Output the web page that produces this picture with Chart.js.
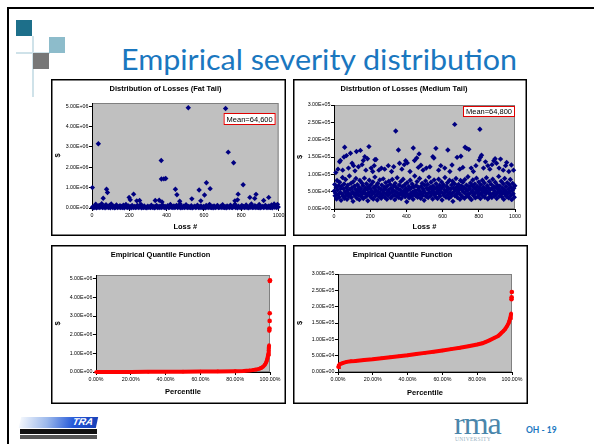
<!DOCTYPE html>
<html lang="en">
<head>
<meta charset="UTF-8" />
<title>Empirical severity distribution</title>
<script src="https://cdn.jsdelivr.net/npm/chart.js@4.4.0/dist/chart.umd.min.js"></script>
<style>
  body { margin: 0; width: 594px; height: 444px; position: relative; overflow: hidden; background: #fff; font-family: Lato, sans-serif; }
  .frame { position: absolute; left: 7px; top: 7px; width: 600px; height: 450px; border-left: 2px solid #000; border-top: 2px solid #000; }
  .deco { position: absolute; }
  #title { position: absolute; left: 121px; top: 44px; font-size: 29px; line-height: 1; color: #1a77bf; white-space: nowrap; transform-origin: 0 0; }
  canvas { position: absolute; }
  .logo-bar { position: absolute; left: 20px; top: 417px; width: 77px; height: 11px; background: linear-gradient(to right, #f2f6fc 0%, #9bb8ec 35%, #2458d8 70%, #1840b8 100%); transform: skewX(-12deg); }
  .logo-bar span { position: absolute; right: 4px; top: -1px; color: #fff; font: italic bold 10px "Liberation Sans", sans-serif; }
  .logo-strip { position: absolute; left: 20px; top: 429px; width: 77px; height: 5px; background: #111; }
  .logo-strip2 { position: absolute; left: 20px; top: 435px; width: 77px; height: 4px; background: #555; }
  #rma { position: absolute; left: 454px; top: 407px; font: 32px "Liberation Serif", serif; color: #4a86ab; line-height: 1; letter-spacing: -1px; }
  #univ { position: absolute; left: 455px; top: 436px; font: 5.5px "Liberation Serif", serif; color: #9ab3c4; letter-spacing: 0.3px; }
  #page { position: absolute; left: 526px; top: 425px; font: bold 8.5px Lato, sans-serif; color: #1a77bf; }
</style>
</head>
<body>
  <div class="frame"></div>
  <!-- corner squares -->
  <div class="deco" style="left:32px; top:36px; width:1.5px; height:61px; background:#cfe2e9"></div>
  <div class="deco" style="left:16px; top:52px; width:34px; height:1.5px; background:#cfe2e9"></div>
  <div class="deco" style="left:16px; top:20px; width:16px; height:16px; background:#1d6f8a"></div>
  <div class="deco" style="left:49px; top:37px; width:16px; height:16px; background:#8dbccb"></div>
  <div class="deco" style="left:33px; top:53px; width:16px; height:16px; background:#777"></div>

  <div id="title">Empirical severity distribution</div>

  <canvas id="c1" width="235" height="157" style="left:51px; top:79px"></canvas>
  <canvas id="c2" width="234" height="157" style="left:293px; top:79px"></canvas>
  <canvas id="c3" width="235" height="159" style="left:51px; top:245px"></canvas>
  <canvas id="c4" width="235" height="159" style="left:293px; top:245px"></canvas>

  <!-- footer -->
  <div class="logo-bar"><span>TRA</span></div>
  <div class="logo-strip"></div>
  <div class="logo-strip2"></div>
  <div id="rma">rma</div>
  <div id="univ">UNIVERSITY</div>
  <div id="page">OH - 19</div>

<script>
  // ---- data (values in thousands of $) ----
  // fat tail: [loss #, loss]
  const fatSmall = [
    [2,40],[6,15],[11,80],[15,25],[20,190],[24,10],[29,60],[33,30],[38,120],[42,20],[47,55],[52,210],[56,18],[61,45],[66,90],[70,12],[75,160],[80,35],[84,70],[89,22],
    [94,130],[98,15],[103,200],[108,50],[112,28],[117,85],[122,14],[126,40],[131,150],[136,22],[140,65],[145,30],[150,110],[154,18],[159,75],[164,25],[168,140],[173,12],[178,55],[182,170],
    [187,35],[192,20],[196,95],[201,30],[206,60],[210,15],[215,120],[220,40],[224,25],[229,80],[234,18],[238,50],[243,130],[248,22],[252,70],[257,35],[262,180],[266,15],[271,60],[276,28],
    [280,100],[285,20],[290,45],[294,12],[299,85],[304,30],[308,55],[313,18],[318,140],[322,40],[327,22],[332,75],[336,15],[341,50],[346,120],[350,25],[355,65],[360,18],[364,90],[369,35],
    [374,20],[378,150],[383,45],[388,28],[392,80],[397,15],[402,55],[406,110],[411,22],[416,40],[420,170],[425,30],[430,60],[434,18],[439,95],[444,25],[448,50],[453,130],[458,20],[462,75],
    [467,35],[472,200],[476,15],[481,60],[486,28],[490,90],[495,22],[500,45],[504,160],[509,30],[514,18],[518,70],[523,40],[528,25],[532,110],[537,15],[542,55],[546,35],[551,85],[556,20],
    [560,45],[565,140],[570,28],[574,65],[579,18],[584,100],[588,35],[593,22],[598,75],[602,40],[607,15],[612,120],[616,30],[621,55],[626,20],[630,180],[635,40],[640,25],[644,70],[649,15],
    [654,95],[658,35],[663,22],[668,60],[672,130],[677,18],[682,45],[686,30],[691,85],[696,20],[700,160],[705,40],[710,25],[714,65],[719,15],[724,100],[728,35],[733,55],[738,22],[742,140],
    [747,30],[752,18],[756,75],[761,45],[766,190],[770,25],[775,60],[780,15],[784,90],[789,35],[794,50],[798,20],[803,120],[808,30],[812,70],[817,18],[822,45],[826,150],[831,25],[836,60],
    [840,15],[845,85],[850,35],[854,200],[859,22],[864,50],[868,30],[873,110],[878,18],[882,65],[887,40],[892,25],[896,170],[901,15],[906,55],[910,35],[915,80],[920,20],[924,45],[929,130],
    [934,28],[938,65],[943,18],[948,95],[952,40],[957,25],[962,150],[966,15],[971,60],[976,200],[980,30],[985,85],[990,20],[994,180],[998,45]
  ];
  const fatLarge = [
    [2,1000],[34,3150],[60,480],[78,920],[83,760],[199,520],[205,400],[223,680],[240,350],[255,370],[339,370],[360,380],[375,300],
    [371,2330],[372,1420],[385,1430],[395,1450],[447,920],[455,650],[470,330],[516,4920],[535,450],[574,880],[583,350],[603,640],
    [613,1240],[633,950],[716,4880],[730,2740],[759,2220],[766,350],[780,400],[783,680],[810,1140],[846,520],[872,470],[879,670],
    [920,370],[947,520]
  ];
  // medium tail: [loss #, loss]
  const mediumHigh = [
    [10,105],[22,115],[31,136],[35,140],[48,112],[55,150],[59,178],[69,154],[80,118],[91,161],[100,132],[108,125],[116,110],[124,166],[135,122],
    [146,169],[155,128],[162,140],[170,151],[176,112],[185,145],[193,180],[205,118],[214,108],[222,125],[226,142],[232,143],[248,112],[262,118],
    [280,115],[300,125],[318,108],[330,122],[341,225],[356,170],[362,132],[375,115],[388,128],[396,139],[405,133],[420,108],[438,176],[445,140],
    [457,147],[466,120],[470,159],[480,126],[492,112],[510,118],[530,122],[546,151],[552,147],[563,175],[578,112],[590,125],[612,118],[629,170],
    [640,108],[652,127],[667,244],[680,149],[695,115],[701,152],[712,120],[724,178],[733,175],[745,172],[758,118],[770,108],[784,125],[802,141],
    [806,230],[809,149],[815,155],[826,118],[837,136],[850,125],[861,115],[873,128],[883,139],[890,145],[898,132],[912,118],[920,144],[935,112],
    [948,125],[954,134],[966,108],[980,127],[992,112]
  ];
  const mediumBand = [
    [1,52],[4,71],[6,38],[9,45],[12,63],[14,29],[17,82],[19,55],[23,41],[26,68],[28,34],[31,77],[34,48],[37,59],[39,25],[42,66],[45,43],[47,91],[50,37],[53,58],
    [56,72],[58,31],[61,49],[64,85],[66,40],[69,62],[72,28],[74,53],[77,69],[80,45],[83,36],[85,95],[88,57],[91,42],[94,74],[96,33],[99,61],[102,50],[105,22],[107,79],
    [110,44],[113,66],[116,38],[118,57],[121,88],[124,47],[127,31],[129,70],[132,54],[135,41],[138,63],[140,27],[143,82],[146,49],[149,58],[151,36],[154,75],[157,43],[160,67],[162,30],
    [165,52],[168,89],[171,46],[173,60],[176,35],[179,73],[182,40],[184,56],[187,24],[190,64],[193,47],[195,83],[198,38],[201,58],[204,70],[206,33],[209,51],[212,44],[215,78],[217,29],
    [220,62],[223,48],[226,92],[228,37],[231,55],[234,68],[237,42],[239,26],[242,74],[245,50],[248,61],[250,35],[253,84],[256,45],[259,57],[261,31],[264,69],[267,40],[270,53],[272,87],
    [275,47],[278,63],[281,34],[283,58],[286,76],[289,43],[292,28],[294,66],[297,51],[300,39],[303,80],[305,56],[308,45],[311,71],[314,32],[316,60],[319,48],[322,85],[325,38],[327,54],
    [330,67],[333,41],[336,27],[338,74],[341,50],[344,62],[347,36],[349,90],[352,46],[355,58],[358,33],[360,69],[363,42],[366,55],[369,79],[371,30],[374,48],[377,64],[380,39],[382,86],
    [385,52],[388,44],[391,70],[393,35],[396,59],[399,47],[402,21],[404,76],[407,54],[410,40],[413,65],[415,32],[418,57],[421,83],[424,45],[426,61],[429,37],[432,72],[435,49],[437,28],
    [440,63],[443,43],[446,95],[448,53],[451,38],[454,68],[457,46],[459,79],[462,34],[465,56],[468,62],[470,41],[473,88],[476,50],[479,31],[481,65],[484,44],[487,74],[490,39],[492,58],
    [495,52],[498,25],[501,69],[503,47],[506,81],[509,36],[512,60],[514,43],[517,71],[520,33],[523,55],[525,92],[528,48],[531,63],[534,38],[536,77],[539,45],[542,57],[545,29],[547,66],
    [550,50],[553,84],[556,41],[558,59],[561,35],[564,73],[567,47],[569,62],[572,30],[575,54],[578,86],[580,43],[583,68],[586,37],[589,58],[591,49],[594,78],[597,26],[600,63],[602,45],
    [605,70],[608,39],[611,55],[613,91],[616,48],[619,34],[622,65],[624,52],[627,76],[630,41],[633,60],[635,31],[638,83],[641,47],[644,57],[646,36],[649,69],[652,44],[655,80],[657,22],
    [660,61],[663,50],[666,73],[668,38],[671,56],[674,88],[677,43],[679,64],[682,33],[685,52],[688,71],[690,46],[693,59],[696,28],[699,82],[701,40],[704,66],[707,55],[710,35],[712,77],
    [715,49],[718,62],[721,31],[723,85],[726,45],[729,57],[732,69],[734,37],[737,53],[740,93],[743,42],[745,64],[748,33],[751,58],[754,75],[756,47],[759,27],[762,68],[765,51],[767,84],
    [770,39],[773,61],[776,44],[778,72],[781,32],[784,56],[787,89],[789,48],[792,65],[795,36],[798,53],[800,78],[803,42],[806,60],[809,30],[811,70],[814,46],[817,55],[820,83],[822,38],
    [825,63],[828,50],[831,75],[833,34],[836,58],[839,44],[842,90],[844,52],[847,67],[850,29],[853,61],[855,47],[858,79],[861,36],[864,56],[866,43],[869,71],[872,33],[875,59],[877,86],
    [880,45],[883,64],[886,38],[888,52],[891,77],[894,41],[897,62],[899,30],[902,69],[905,48],[908,57],[910,94],[913,37],[916,66],[919,51],[921,43],[924,80],[927,35],[930,60],[932,47],
    [935,73],[938,28],[941,55],[943,88],[946,42],[949,65],[952,50],[954,36],[957,76],[960,45],[963,58],[965,32],[968,70],[971,49],[974,85],[976,39],[979,62],[982,27],[985,54],[987,74],
    [990,44],[993,60],[996,34],[999,67]
  ];
  // empirical quantile functions: percentile (%) and loss
  const fatPct      = [0, 10, 20, 30, 40, 50, 60, 70, 80, 85, 88, 90, 92, 94, 95, 96, 97, 97.5, 98, 98.5, 99, 99.2, 99.4, 99.5];
  const fatQuant    = [0, 2, 5, 9, 13, 18, 25, 33, 45, 60, 80, 100, 130, 180, 220, 280, 380, 460, 560, 720, 950, 1150, 1300, 1450];
  const fatTopPct   = [99.6, 99.7, 99.8, 99.85, 99.9, 100];
  const fatTopQuant = [2220, 2330, 2740, 3150, 4880, 4920];
  const medPct      = [0, 0.5, 1, 2, 3, 5, 7.5, 10, 15, 20, 25, 30, 35, 40, 45, 50, 55, 60, 65, 70, 75, 80, 83, 85, 87, 90, 92, 93, 94, 95, 96, 97, 98, 98.5, 99, 99.3, 99.5];
  const medQuant    = [15, 20, 24, 26, 28, 31, 33, 34, 37, 39, 42, 45, 48, 51, 55, 58.5, 62, 66, 70, 74, 79, 84, 88, 92.5, 97, 105, 110, 115, 120, 125, 131, 139, 149, 156, 166, 173, 180];
  const medTopPct   = [99.7, 99.8, 99.9];
  const medTopQuant = [223, 229, 245];

  // tick values
  const lossTicks = [0, 200, 400, 600, 800, 1000];
  const pctTicks = [0, 20, 40, 60, 80, 100];
  const fatTicks = [0, 1e6, 2e6, 3e6, 4e6, 5e6];
  const medTicks = [0, 5e4, 1e5, 1.5e5, 2e5, 2.5e5, 3e5];

  // ---- helpers ----
  const FAMILY = '"Liberation Sans", Arial, sans-serif';
  const tickFont = { family: FAMILY, size: 5.3 };
  const boldFont = { family: FAMILY, size: 7.5, weight: 'bold' };

  const sci = v => {
    if (v === 0) return '0.00E+00';
    const e = Math.floor(Math.log10(v) + 1e-9);
    return (v / Math.pow(10, e)).toFixed(2) + 'E+' + String(e).padStart(2, '0');
  };
  const pairs = list => list.map(([x, y]) => ({ x, y: y * 1000 }));
  const zip = (xs, ys) => xs.map((x, i) => ({ x, y: ys[i] * 1000 }));

  const panelPlugin = {
    id: 'panel',
    beforeDraw(chart) {
      const { ctx, chartArea: a, width, height } = chart;
      ctx.save();
      ctx.fillStyle = '#fff';
      ctx.fillRect(0, 0, width, height);
      ctx.fillStyle = '#c0c0c0';
      ctx.fillRect(a.left, a.top, a.width, a.height);
      ctx.strokeStyle = '#808080';
      ctx.lineWidth = 1;
      ctx.strokeRect(a.left + 0.5, a.top + 0.5, a.width - 1, a.height - 1);
      ctx.strokeStyle = '#000';
      ctx.lineWidth = 1.5;
      ctx.strokeRect(0.75, 0.75, width - 1.5, height - 1.5);
      ctx.restore();
    },
    afterDatasetsDraw(chart, args, opts) {
      if (!opts.text) return;
      const { ctx, chartArea: a } = chart;
      const x = a.right - opts.right - opts.w, y = a.top + opts.top;
      ctx.save();
      ctx.fillStyle = '#fff';
      ctx.fillRect(x, y, opts.w, opts.h);
      ctx.strokeStyle = '#e00000';
      ctx.lineWidth = 1;
      ctx.strokeRect(x + 0.5, y + 0.5, opts.w - 1, opts.h - 1);
      ctx.fillStyle = '#000';
      ctx.font = '7.5px ' + FAMILY;
      ctx.textAlign = 'center';
      ctx.textBaseline = 'middle';
      ctx.fillText(opts.text, x + opts.w / 2, y + opts.h / 2 + 0.5);
      ctx.restore();
    }
  };

  function makeChart(id, o) {
    return new Chart(document.getElementById(id), {
      type: 'scatter',
      data: { datasets: o.datasets },
      plugins: [panelPlugin],
      options: {
        responsive: false,
        devicePixelRatio: 1,
        animation: false,
        layout: { padding: { left: 0, right: o.area.right, top: 0, bottom: 0 } },
        plugins: {
          legend: { display: false },
          tooltip: { enabled: false },
          title: { display: true, text: o.title, font: boldFont, color: '#000', padding: { top: 5.5, bottom: o.area.top - 14.5 } },
          panel: o.mean || {}
        },
        scales: {
          x: {
            type: 'linear', min: o.xTicks[0], max: o.xTicks[o.xTicks.length - 1],
            afterFit: s => { s.height = o.area.bottom; },
            afterBuildTicks: s => { s.ticks = o.xTicks.map(value => ({ value })); },
            ticks: { callback: o.xFmt, font: tickFont, color: '#000', padding: 1.5, maxRotation: 0, autoSkip: false },
            grid: { drawOnChartArea: false, tickLength: 3, color: '#000' },
            border: { color: '#000', width: 1 },
            title: { display: true, text: o.xTitle, font: boldFont, color: '#000', padding: { top: 0, bottom: o.xTitlePad } }
          },
          y: {
            min: 0, max: o.yMax,
            afterFit: s => { s.width = o.area.left; },
            afterBuildTicks: s => { s.ticks = o.yTicks.map(value => ({ value })); },
            ticks: { callback: v => sci(v), font: tickFont, color: '#000', padding: 0.5, autoSkip: false },
            grid: { drawOnChartArea: false, tickLength: 3, color: '#000' },
            border: { color: '#000', width: 1 },
            title: { display: true, text: '$', font: boldFont, color: '#000', padding: { top: 2.5, bottom: 0 } }
          }
        }
      }
    });
  }

  const scatterSet = data => ({ data, pointStyle: 'rectRot', pointRadius: 2.7, backgroundColor: '#000080', borderWidth: 0, clip: false });
  const lineSet = data => ({ data, showLine: true, borderColor: '#ff0000', borderWidth: 4, pointRadius: 1.8, backgroundColor: '#ff0000', pointBorderWidth: 0, clip: false });
  const dotSet = data => ({ data, pointStyle: 'circle', pointRadius: 2.3, backgroundColor: '#ff0000', borderWidth: 0, clip: false });
  const pctFmt = v => v.toFixed(2) + '%';

  makeChart('c1', {
    title: 'Distribution of Losses (Fat Tail)',
    datasets: [scatterSet(pairs(fatSmall.concat(fatLarge)))],
    area: { left: 41, right: 6, top: 24, bottom: 28 },
    xTicks: lossTicks, xFmt: v => v, xTitle: 'Loss #', xTitlePad: 4.5,
    yMax: 5.15e6, yTicks: fatTicks,
    mean: { text: 'Mean=64,600', right: 3, top: 10, w: 52, h: 12 }
  });
  makeChart('c2', {
    title: 'Distrbution of Losses (Medium Tail)',
    datasets: [scatterSet(pairs(mediumBand.concat(mediumHigh)))],
    area: { left: 41, right: 12, top: 26, bottom: 27 },
    xTicks: lossTicks, xFmt: v => v, xTitle: 'Loss #', xTitlePad: 4.8,
    yMax: 3e5, yTicks: medTicks,
    mean: { text: 'Mean=64,800', right: 0, top: 1, w: 52, h: 11 }
  });
  makeChart('c3', {
    title: 'Empirical Quantile Function',
    datasets: [lineSet(zip(fatPct, fatQuant)), dotSet(zip(fatTopPct, fatTopQuant))],
    area: { left: 45, right: 16, top: 30, bottom: 32 },
    xTicks: pctTicks, xFmt: pctFmt, xTitle: 'Percentile', xTitlePad: 7.8,
    yMax: 5.2e6, yTicks: fatTicks
  });
  makeChart('c4', {
    title: 'Empirical Quantile Function',
    datasets: [lineSet(zip(medPct, medQuant)), dotSet(zip(medTopPct, medTopQuant))],
    area: { left: 45, right: 16, top: 29, bottom: 32 },
    xTicks: pctTicks, xFmt: pctFmt, xTitle: 'Percentile', xTitlePad: 6.8,
    yMax: 3e5, yTicks: medTicks
  });

  // squeeze the slide title to the width of the original (Gill Sans is narrower)
  document.fonts.ready.then(() => {
    const t = document.getElementById('title');
    t.style.transform = 'scaleX(' + (396 / t.offsetWidth) + ')';
  });
</script>
</body>
</html>
